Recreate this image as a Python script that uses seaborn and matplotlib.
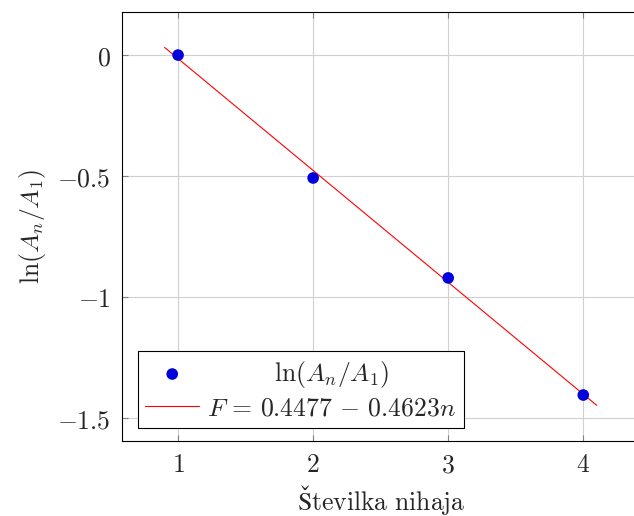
import numpy as np
import pandas as pd
import seaborn as sns
import matplotlib.pyplot as plt
from matplotlib.transforms import Affine2D

sns.set_theme(style='whitegrid')
plt.rcParams['mathtext.fontset'] = 'cm'
plt.rcParams['font.family'] = ['DejaVu Serif']

# Data
n = [1, 2, 3, 4]
ln_ratio = [0.0, -0.508, -0.921, -1.405]
fit_x = [0.9, 4.1]
a, b = 0.4477, -0.4623
fit_y = [a + b * x for x in fit_x]

yticks = [0, -0.5, -1, -1.5]
ytick_labels = [r'$0$', r'$-0.5$', r'$-1$', r'$-1.5$']
xticks = [1, 2, 3, 4]
xtick_labels = [r'$1$', r'$2$', r'$3$', r'$4$']

pts = pd.DataFrame({'n': n, 'y': ln_ratio})
fit = pd.DataFrame({'n': fit_x, 'y': fit_y})

fs = 18.5

fig = plt.figure(figsize=(6.34, 5.16), dpi=100)
ax = fig.add_axes([122 / 634, 75 / 516, 518 / 634, 429 / 516])

sns.scatterplot(data=pts, x='n', y='y', ax=ax, color='#0000dd', s=70,
                edgecolor='none', label=r'$\ln(A_n/A_1)$', zorder=3)
sns.lineplot(data=fit, x='n', y='y', ax=ax, color='red', linewidth=0.8,
             label=r'$F\,=\,0.4477\,-\,0.4623n$', zorder=2)

ax.set_xlim(0.585, 4.42)
ax.set_ylim(-1.595, 0.178)
ax.set_xticks(xticks)
ax.set_xticklabels(xtick_labels, fontsize=fs)
ax.set_yticks(yticks)
ax.set_yticklabels(ytick_labels, fontsize=fs)
ax.grid(True, color='#d0d0d0', linewidth=0.8)
for s in ax.spines.values():
    s.set_color('black')
    s.set_linewidth(0.8)
ax.tick_params(direction='in', length=4.5, width=0.8, color='#808080',
               top=True, right=True, bottom=True, left=True, pad=8)

ax.set_xlabel(r'$\mathrm{Številka\ nihaja}$', fontsize=fs, labelpad=4)
ax.set_ylabel(r'$\ln(A_n/A_1)$', fontsize=fs, labelpad=7)

leg = ax.legend(loc='lower left', fontsize=fs, frameon=True, fancybox=False,
                edgecolor='black', framealpha=1, borderpad=0.3,
                labelspacing=0.22, handlelength=2.1, handletextpad=0.3,
                bbox_to_anchor=(0.03, 0.03), borderaxespad=0)
leg.get_frame().set_linewidth(0.8)

# center the legend texts like pgfplots does
fig.canvas.draw()
r = fig.canvas.get_renderer()
texts = leg.get_texts()
widths = [t.get_window_extent(r).width for t in texts]
wmax = max(widths)
for t, w in zip(texts, widths):
    t.set_transform(t.get_transform() + Affine2D().translate((wmax - w) / 2, 0))

fig.savefig('out.png', dpi=100)
